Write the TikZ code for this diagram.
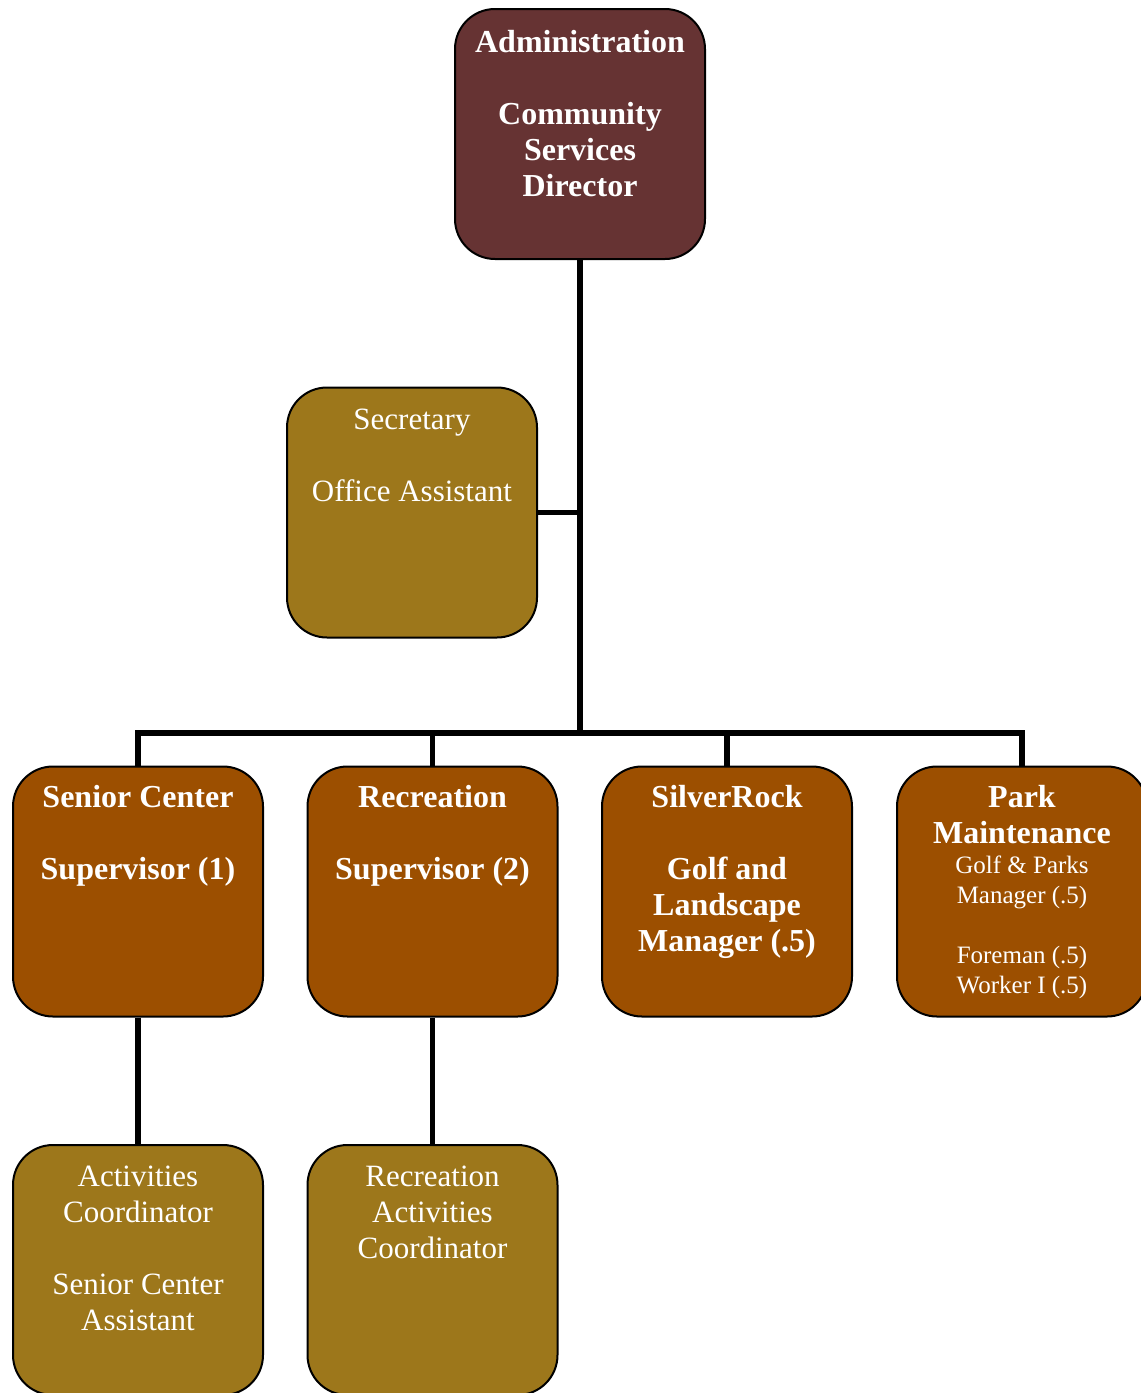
\documentclass[tikz,border=0pt]{standalone}
\usepackage{fontspec}
\setmainfont{Liberation Serif}
\newcommand{\firstline}[1]{\rule{0pt}{#1}}
\begin{document}
\begin{tikzpicture}[x=1pt,y=-1pt,
  box/.style={draw=black, line width=2pt, rounded corners=40pt, minimum width=250pt, minimum height=250pt, inner sep=0pt},
  admincol/.style={box, fill=adminbrown},
  goldcol/.style={box, fill=gold},
  orangecol/.style={box, fill=orangebrown},
  bigbold/.style={text=white, align=center, inner sep=0pt, anchor=north, font=\fontsize{32}{36}\selectfont\bfseries},
  plain/.style={text=white, align=center, inner sep=0pt, anchor=north, font=\fontsize{31}{36}\selectfont},
  small/.style={text=white, align=center, inner sep=0pt, anchor=north, font=\fontsize{25}{30}\selectfont},
  conn/.style={draw=black, line width=5.5pt}]
\definecolor{adminbrown}{RGB}{102,51,51}
\definecolor{gold}{RGB}{157,119,27}
\definecolor{orangebrown}{RGB}{156,79,0}
\useasboundingbox (0,0) rectangle (1141,1393);
\clip (0,0) rectangle (1141,1393);
% boxes
\node[admincol] (admin) at (580,134) {};
\node[goldcol] (sec) at (412,512.5) {};
\node[orangecol] (sc) at (138,891.5) {};
\node[orangecol] (rec) at (432.5,891.5) {};
\node[orangecol] (golf) at (727,891.5) {};
\node[orangecol] (pm) at (1022,891.5) {};
\node[goldcol] (ac) at (138,1270) {};
\node[goldcol] (rac) at (432.5,1270) {};
\coordinate (bus) at (580,733);
% connectors
\draw[conn] (admin.south) -- (admin.south |- bus);
\draw[conn] (sec.east) -- (sec.east -| admin.south);
\draw[conn] (sc.north) |- (pm.north |- bus) -- (pm.north);
\draw[conn] (rec.north) -- (rec.north |- bus);
\draw[conn] (golf.north) -- (golf.north |- bus);
\draw[conn] (sc.south) -- (ac.north);
\draw[conn] (rec.south) -- (rac.north);
% texts
\node[bigbold] (admint) at ([yshift=-19pt]admin.north) {\firstline{25pt}Administration\\ \mbox{}\\ Community\\ Services\\ Director};
\node[plain] (sect) at ([yshift=-18pt]sec.north) {\firstline{25pt}Secretary\\ \mbox{}\\ Office Assistant};
\node[bigbold] (sct) at ([yshift=-17pt]sc.north) {\firstline{25pt}Senior Center\\ \mbox{}\\ Supervisor (1)};
\node[bigbold] (rect) at ([yshift=-17pt]rec.north) {\firstline{25pt}Recreation\\ \mbox{}\\ Supervisor (2)};
\node[bigbold] (golft) at ([yshift=-17pt]golf.north) {\firstline{25pt}SilverRock\\ \mbox{}\\ Golf and\\ Landscape\\ Manager (.5)};
\node[bigbold] (pmt) at ([yshift=-17pt]pm.north) {\firstline{25pt}Park\\ Maintenance};
\node[small] (pmt2) at ([yshift=-88pt]pm.north) {\firstline{20pt}Golf \& Parks\\ Manager (.5)\\ \mbox{}\\ Foreman (.5)\\ Worker I (.5)};
\node[plain] (act) at ([yshift=-17pt]ac.north) {\firstline{25pt}Activities\\ Coordinator\\ \mbox{}\\ Senior Center\\ Assistant};
\node[plain] (ract) at ([yshift=-17pt]rac.north) {\firstline{25pt}Recreation\\ Activities\\ Coordinator};
\end{tikzpicture}
\end{document}
